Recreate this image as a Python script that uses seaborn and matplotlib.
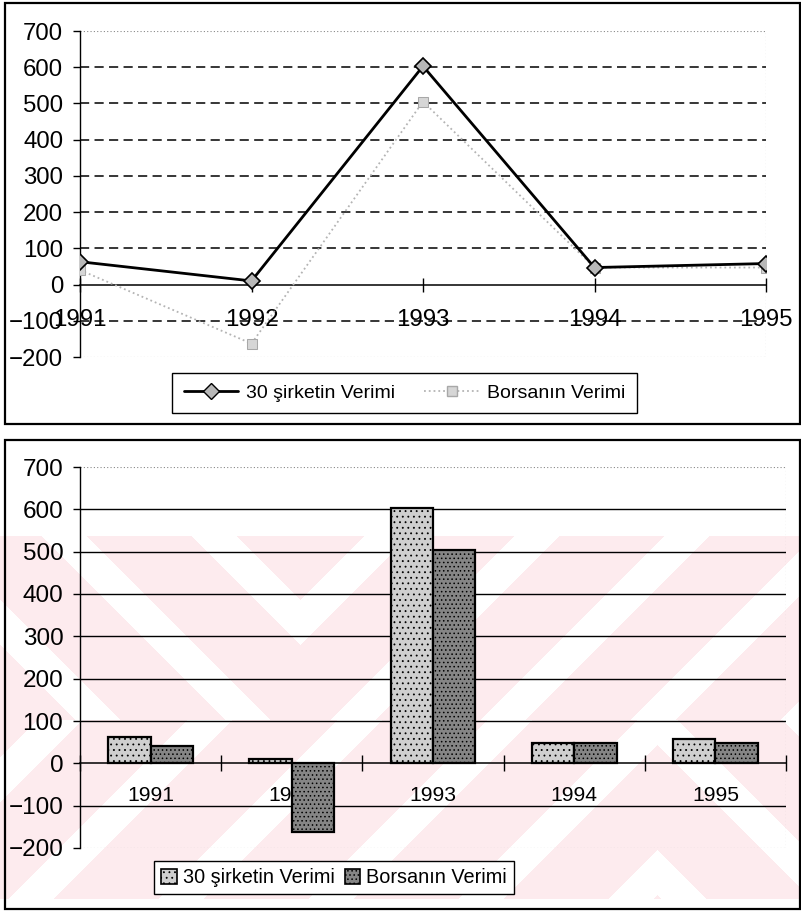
import numpy as np
import pandas as pd
import matplotlib
matplotlib.use("Agg")
import matplotlib.pyplot as plt
import seaborn as sns
from matplotlib.patches import Rectangle, Patch
from matplotlib.lines import Line2D

# ---------------- data ----------------
years = [1991, 1992, 1993, 1994, 1995]
year_labels = ["1991", "1992", "1993", "1994", "1995"]
sirket = [63, 10, 603, 47, 58]      # 30 şirketin Verimi
borsa = [40, -163, 505, 47, 47]     # Borsanın Verimi
series_names = ["30 şirketin Verimi", "Borsanın Verimi"]
yticks = [-200, -100, 0, 100, 200, 300, 400, 500, 600, 700]

# ---------------- style ----------------
sns.set_theme(style="ticks")
plt.rcParams["font.family"] = ["Liberation Sans", "DejaVu Sans"]
for k in ["text.color", "xtick.color", "ytick.color", "axes.edgecolor", "axes.labelcolor"]:
    plt.rcParams[k] = "black"
plt.rcParams["hatch.linewidth"] = 0.6

W, H = 801, 911
fig = plt.figure(figsize=(W / 100, H / 100), dpi=100)


def fx(px):
    return px / W


def fy(py):
    return 1 - py / H


# ---------------- faint watermark behind lower chart ----------------
bg = fig.add_axes([0, 0, 1, 1], zorder=-10)
bg.axis("off")
yy, xx = np.mgrid[0:H, 0:W]
img = np.ones((H, W, 3))
pink = np.array([253, 235, 238]) / 255.0
region = (yy >= 536) & (yy <= 898)
u_top = np.abs(xx - 300) + 1.0 * yy
u_bot = -np.abs(xx - 657) + 1.0 * yy + 2000
u = np.where(yy < 720, u_top, u_bot)
white = (np.mod(u, 150) < 45)
mask = region & ~white
img[mask] = pink
bg.imshow(img, extent=[0, 1, 0, 1], aspect="auto", interpolation="nearest")
bg.set_xlim(0, 1)
bg.set_ylim(0, 1)

# ---------------- frames ----------------
fig.add_artist(Rectangle((fx(5), fy(424)), (800 - 5) / W, (424 - 3) / H,
                         transform=fig.transFigure, fill=False, lw=1.6, ec="black"))
fig.add_artist(Rectangle((fx(5), fy(909)), (800 - 5) / W, (909 - 440) / H,
                         transform=fig.transFigure, fill=False, lw=1.6, ec="black"))

# ---------------- top: line chart ----------------
ax1 = fig.add_axes([fx(80), fy(357), (766 - 80) / W, (357 - 31) / H])
ax1.patch.set_alpha(0)

sns.lineplot(x=years, y=sirket, ax=ax1, color="black", lw=2, marker="D",
             markersize=8, markerfacecolor="#b8b8b8", markeredgecolor="black",
             markeredgewidth=1.2, label=series_names[0], zorder=5)
sns.lineplot(x=years, y=borsa, ax=ax1, color="#b4b4b4", lw=1.3, linestyle=":",
             marker="s", markersize=7, markerfacecolor="#d6d6d6",
             markeredgecolor="#a8a8a8", label=series_names[1], zorder=4)

ax1.set_xlim(years[0], years[-1])
ax1.set_ylim(yticks[0], yticks[-1])
ax1.set_yticks(yticks)
ax1.set_xticks(years)
ax1.set_xticklabels(year_labels)
ax1.set_xlabel("")
ax1.set_ylabel("")
for v in yticks:
    if v in (yticks[0], yticks[-1]):
        ax1.axhline(v, color="#888888", lw=0.8, ls=(0, (1, 2)), zorder=1)
    elif v != 0:
        ax1.axhline(v, color="black", lw=1.1, ls=(0, (6, 3.5)), zorder=1)
ax1.axvline(years[-1], color="#888888", lw=0.8, ls=(0, (1, 2)), zorder=1)
ax1.spines["top"].set_visible(False)
ax1.spines["right"].set_visible(False)
ax1.spines["bottom"].set_position(("data", 0))
ax1.spines["bottom"].set_linewidth(1.1)
ax1.spines["left"].set_linewidth(1.0)
ax1.tick_params(axis="x", direction="inout", length=10, width=1, pad=12.5, labelsize=17.3)
ax1.tick_params(axis="y", direction="out", length=5, width=1, pad=7, labelsize=17.3)
ax1.get_legend().remove()

h1 = [Line2D([], [], color="black", lw=2, marker="D", markersize=8,
             markerfacecolor="#b8b8b8", markeredgecolor="black"),
      Line2D([], [], color="#b4b4b4", lw=1.3, linestyle=":", marker="s", markersize=7,
             markerfacecolor="#d6d6d6", markeredgecolor="#a8a8a8")]
leg1 = fig.legend(h1, series_names, loc="center",
                  bbox_to_anchor=(fx((172 + 637) / 2), fy((370 + 416) / 2)),
                  bbox_transform=fig.transFigure, ncol=2, fontsize=14,
                  frameon=True, fancybox=False, edgecolor="black", framealpha=1,
                  handlelength=2.8, columnspacing=1.5, borderpad=0.6, handletextpad=0.4)
leg1.get_frame().set_linewidth(1.0)

# ---------------- bottom: bar chart ----------------
ax2 = fig.add_axes([fx(80), fy(848), (786 - 80) / W, (848 - 467) / H])
ax2.patch.set_alpha(0)

df_bar = pd.DataFrame({
    "Yıl": year_labels * 2,
    "Verim": sirket + borsa,
    "Seri": [series_names[0]] * len(years) + [series_names[1]] * len(years),
})
bar_colors = ["#cfcfcf", "#858585"]
bar_hatch = ["...", "...."]
sns.barplot(data=df_bar, x="Yıl", y="Verim", hue="Seri", order=year_labels,
            hue_order=series_names, palette=bar_colors, width=0.6, gap=0,
            edgecolor="black", linewidth=1.6, saturation=1, ax=ax2, zorder=3)
for i, p in enumerate(ax2.patches):
    p.set_hatch(bar_hatch[0] if i < len(years) else bar_hatch[1])

ax2.set_xlim(-0.5, len(years) - 0.5)
ax2.set_ylim(yticks[0], yticks[-1])
ax2.set_yticks(yticks)
ax2.set_xlabel("")
ax2.set_ylabel("")
for v in yticks:
    if v in (yticks[0], yticks[-1]):
        ax2.axhline(v, color="#888888", lw=0.8, ls=(0, (1, 2)), zorder=1)
    elif v != 0:
        ax2.axhline(v, color="black", lw=1.0, zorder=1)
ax2.axvline(len(years) - 0.5, color="#888888", lw=0.8, ls=(0, (1, 2)), zorder=1)
ax2.spines["top"].set_visible(False)
ax2.spines["right"].set_visible(False)
ax2.spines["bottom"].set_position(("data", 0))
ax2.spines["bottom"].set_linewidth(1.1)
ax2.spines["left"].set_linewidth(1.0)
ax2.set_xticks(np.arange(-0.5, len(years), 1.0), minor=True)
ax2.tick_params(axis="x", which="major", length=0, pad=16, labelsize=15.2)
ax2.tick_params(axis="x", which="minor", direction="inout", length=12, width=1)
ax2.tick_params(axis="y", direction="out", length=5, width=1, pad=7, labelsize=17.5)
if ax2.get_legend() is not None:
    ax2.get_legend().remove()

h2 = [Patch(facecolor=bar_colors[0], edgecolor="black", hatch=bar_hatch[0], lw=1.2),
      Patch(facecolor=bar_colors[1], edgecolor="black", hatch=bar_hatch[1], lw=1.2)]
leg2 = fig.legend(h2, series_names, loc="center",
                  bbox_to_anchor=(fx((142 + 526) / 2), fy((860 + 895) / 2)),
                  bbox_transform=fig.transFigure, ncol=2, fontsize=14.3,
                  frameon=True, fancybox=False, edgecolor="black", framealpha=1,
                  handlelength=0.8, handleheight=0.8, columnspacing=0.5,
                  borderpad=0.35, handletextpad=0.3)
leg2.get_frame().set_linewidth(1.0)

fig.savefig("out.png", dpi=100)
